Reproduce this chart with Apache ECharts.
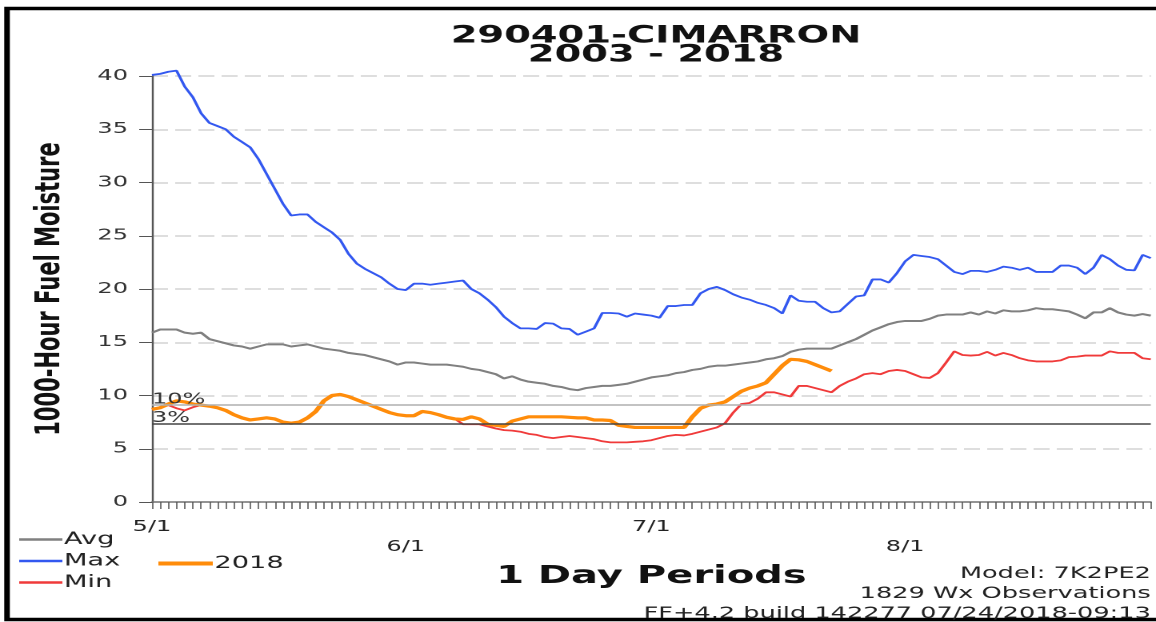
<!DOCTYPE html>
<html>
<head>
<meta charset="utf-8">
<script src="https://cdn.jsdelivr.net/npm/echarts@6/dist/echarts.min.js"></script>
<style>
    html, body { margin: 0; padding: 0; background: #fff; overflow: hidden; }
    /* the source picture is stretched sideways, so draw narrow and stretch the whole chart */
    #chart { width: 722.5px; height: 622px; transform: scaleX(1.6); transform-origin: 0 0; }
</style>
</head>
<body>
<div id="chart"></div>
<script>
// days from 5/1 to 8/31
var monthStarts = [5, 6, 7, 8];
var monthDays = [31, 30, 31, 31];
var dates = [];
for (var m = 0; m < monthStarts.length; m++) {
    for (var d = 1; d <= monthDays[m]; d++) {
        dates.push(monthStarts[m] + '/' + d);
    }
}

var avgData = [
    15.9, 16.2, 16.2, 16.2, 15.9, 15.8, 15.9, 15.3, 15.1, 14.9,
    14.7, 14.6, 14.4, 14.6, 14.8, 14.8, 14.8, 14.6, 14.7, 14.8,
    14.6, 14.4, 14.3, 14.2, 14.0, 13.9, 13.8, 13.6, 13.4, 13.2,
    12.9, 13.1, 13.1, 13.0, 12.9, 12.9, 12.9, 12.8, 12.7, 12.5,
    12.4, 12.2, 12.0, 11.6, 11.8, 11.5, 11.3, 11.2, 11.1, 10.9,
    10.8, 10.6, 10.5, 10.7, 10.8, 10.9, 10.9, 11.0, 11.1, 11.3,
    11.5, 11.7, 11.8, 11.9, 12.1, 12.2, 12.4, 12.5, 12.7, 12.8,
    12.8, 12.9, 13.0, 13.1, 13.2, 13.4, 13.5, 13.7, 14.1, 14.3,
    14.4, 14.4, 14.4, 14.4, 14.7, 15.0, 15.3, 15.7, 16.1, 16.4,
    16.7, 16.9, 17.0, 17.0, 17.0, 17.2, 17.5, 17.6, 17.6, 17.6,
    17.8, 17.6, 17.9, 17.7, 18.0, 17.9, 17.9, 18.0, 18.2, 18.1,
    18.1, 18.0, 17.9, 17.6, 17.25, 17.8, 17.8, 18.2, 17.8, 17.6,
    17.5, 17.65, 17.5
];

var maxData = [
    40.1, 40.2, 40.4, 40.5, 39.0, 38.0, 36.5, 35.6, 35.3, 35.0,
    34.3, 33.8, 33.3, 32.2, 30.8, 29.4, 28.0, 26.9, 27.0, 27.0,
    26.3, 25.8, 25.3, 24.6, 23.3, 22.4, 21.9, 21.5, 21.1, 20.5,
    20.0, 19.9, 20.5, 20.5, 20.4, 20.5, 20.6, 20.7, 20.8, 20.0,
    19.6, 19.0, 18.3, 17.4, 16.8, 16.3, 16.3, 16.25, 16.8, 16.75,
    16.3, 16.25, 15.7, 16.0, 16.3, 17.75, 17.75, 17.7, 17.4, 17.7,
    17.6, 17.5, 17.3, 18.4, 18.4, 18.5, 18.5, 19.6, 20.0, 20.2,
    19.9, 19.5, 19.2, 19.0, 18.7, 18.5, 18.2, 17.7, 19.4, 18.9,
    18.8, 18.8, 18.2, 17.8, 17.9, 18.6, 19.3, 19.4, 20.9, 20.9,
    20.6, 21.5, 22.6, 23.2, 23.1, 23.0, 22.8, 22.2, 21.6, 21.4,
    21.7, 21.7, 21.6, 21.8, 22.1, 22.0, 21.8, 22.0, 21.6, 21.6,
    21.6, 22.2, 22.2, 22.0, 21.4, 22.0, 23.2, 22.8, 22.2, 21.8,
    21.75, 23.2, 22.9
];

var minData = [
    8.7, 8.85, 9.1, 8.8, 8.6, 8.9, 9.1, 9.0, 8.85, 8.6,
    8.2, 7.9, 7.7, 7.8, 7.9, 7.8, 7.5, 7.4, 7.5, 7.9,
    8.5, 9.5, 10.0, 10.1, 9.9, 9.6, 9.3, 9.0, 8.7, 8.4,
    8.2, 8.1, 8.1, 8.5, 8.4, 8.2, 7.95, 7.8, 7.3, 7.3,
    7.3, 7.1, 6.9, 6.75, 6.7, 6.6, 6.4, 6.3, 6.1, 6.0,
    6.1, 6.2, 6.1, 6.0, 5.9, 5.7, 5.6, 5.6, 5.6, 5.65,
    5.7, 5.8, 6.0, 6.2, 6.3, 6.25, 6.4, 6.6, 6.8, 7.0,
    7.4, 8.4, 9.2, 9.3, 9.7, 10.3, 10.3, 10.1, 9.9, 10.9,
    10.9, 10.7, 10.5, 10.3, 10.9, 11.3, 11.6, 12.0, 12.1, 12.0,
    12.3, 12.4, 12.3, 12.0, 11.7, 11.65, 12.1, 13.1, 14.15, 13.8,
    13.75, 13.8, 14.1, 13.75, 14.0, 13.8, 13.5, 13.3, 13.2, 13.2,
    13.2, 13.3, 13.6, 13.65, 13.75, 13.75, 13.75, 14.15, 14.0, 14.0,
    14.0, 13.5, 13.4
];

var data2018 = [
    8.7, 8.85, 9.2, 9.5, 9.4, 9.2, 9.1, 9.0, 8.85, 8.6,
    8.2, 7.9, 7.7, 7.8, 7.9, 7.8, 7.5, 7.4, 7.5, 7.9,
    8.5, 9.5, 10.0, 10.1, 9.9, 9.6, 9.3, 9.0, 8.7, 8.4,
    8.2, 8.1, 8.1, 8.5, 8.4, 8.2, 7.95, 7.8, 7.75, 8.0,
    7.8, 7.3, 7.2, 7.1, 7.6, 7.8, 8.0, 8.0, 8.0, 8.0,
    8.0, 7.95, 7.9, 7.9, 7.7, 7.7, 7.65, 7.2, 7.1, 7.0,
    7.0, 7.0, 7.0, 7.0, 7.0, 7.0, 8.0, 8.8, 9.1, 9.2,
    9.4, 9.9, 10.4, 10.7, 10.9, 11.2, 12.0, 12.8, 13.4, 13.35,
    13.2, 12.9, 12.6, 12.3
];

// percentile lines
var pctNames = ['10%', '3%'];
var pctValues = [9.1, 7.35];

var titleLines = ['290401-CIMARRON', '2003 - 2018'];
var footLines = ['Model: 7K2PE2', '1829 Wx Observations', 'FF+4.2 build 142277 07/24/2018-09:13'];

var font = '"DejaVu Sans", Verdana, sans-serif';
var chart = echarts.init(document.getElementById('chart'), null, { devicePixelRatio: 2 });

var option = {
    animation: false,
    backgroundColor: '#fff',
    textStyle: { fontFamily: font },
    title: {
        text: titleLines.join('\n'),
        left: 405,
        textAlign: 'center',
        top: 22,
        textStyle: { fontSize: 24, fontWeight: 'bold', color: '#111', lineHeight: 19, fontFamily: font }
    },
    legend: [{
        data: ['Avg', 'Max', 'Min'],
        orient: 'vertical',
        left: 7,
        top: 526,
        icon: 'rect',
        itemWidth: 27,
        itemHeight: 2.5,
        itemGap: 4.5,
        textStyle: { fontSize: 17, color: '#222', padding: [0, 0, 0, -4] }
    }, {
        data: ['2018'],
        left: 94,
        top: 550,
        icon: 'rect',
        itemWidth: 34,
        itemHeight: 4,
        textStyle: { fontSize: 17, color: '#222', padding: [0, 0, 0, -4] }
    }],
    grid: { left: 95, right: 3.75, top: 76, bottom: 120 },
    xAxis: {
        type: 'category',
        data: dates,
        boundaryGap: false,
        axisLine: { lineStyle: { color: '#777', width: 1.5 } },
        axisTick: { interval: 0, length: 7, lineStyle: { color: '#555', width: 0.8 } },
        axisLabel: {
            interval: function (i, v) { return /\/1$/.test(v); },
            fontSize: 15,
            color: '#222',
            margin: 15,
            lineHeight: 20,
            formatter: function (v) {
                var mon = parseInt(v, 10);
                return (mon === 6 || mon === 8) ? '\n' + v : v;
            }
        },
        splitLine: { show: false },
        name: '1 Day Periods',
        nameLocation: 'middle',
        nameGap: 62,
        nameTextStyle: { fontSize: 25, fontWeight: 'bold', color: '#111' }
    },
    yAxis: {
        type: 'value',
        min: 0,
        max: 40,
        interval: 5,
        name: '1000-Hour Fuel Moisture',
        nameLocation: 'middle',
        nameRotate: 90,
        nameGap: 53,
        nameTextStyle: { fontSize: 21, fontWeight: 'bold', color: '#111' },
        axisLine: { show: true, lineStyle: { color: '#555', width: 1.2 } },
        axisTick: { show: true, length: 8, lineStyle: { color: '#555' } },
        axisLabel: { fontSize: 15, color: '#333', margin: 15 },
        splitLine: { lineStyle: { color: '#d4d4d4', type: [10, 4.5], width: 1.5 } }
    },
    series: [{
        name: 'Avg',
        type: 'line',
        data: avgData,
        showSymbol: false,
        lineStyle: { color: '#808080', width: 2 },
        itemStyle: { color: '#808080' },
        markLine: {
            silent: true,
            symbol: 'none',
            data: [
                { yAxis: pctValues[0], name: pctNames[0], lineStyle: { color: '#b0b0b0', width: 1.5, type: 'solid' } },
                { yAxis: pctValues[1], name: pctNames[1], lineStyle: { color: '#444', width: 1.5, type: 'solid' } }
            ],
            label: {
                position: 'insideStartTop',
                formatter: '{b}',
                fontSize: 15,
                color: '#333',
                distance: [0, -2]
            }
        }
    }, {
        name: 'Max',
        type: 'line',
        data: maxData,
        showSymbol: false,
        clip: false,
        lineStyle: { color: '#3358f0', width: 1.8 },
        itemStyle: { color: '#3358f0' }
    }, {
        name: 'Min',
        type: 'line',
        data: minData,
        showSymbol: false,
        lineStyle: { color: '#f03a3a', width: 1.8 },
        itemStyle: { color: '#f03a3a' }
    }, {
        name: '2018',
        type: 'line',
        data: data2018,
        showSymbol: false,
        lineStyle: { color: '#ff8c0a', width: 3.2 },
        itemStyle: { color: '#ff8c0a' }
    }],
    graphic: [{
        type: 'rect',
        shape: { x: 4.4, y: 8.5, width: 730, height: 611 },
        style: { fill: 'none', stroke: '#000', lineWidth: 3.5 },
        silent: true
    }, {
        type: 'text',
        right: 3.75,
        top: 564,
        style: {
            text: footLines.join('\n'),
            font: '16px ' + font,
            fill: '#222',
            textAlign: 'right',
            lineHeight: 20
        }
    }]
};

chart.setOption(option);
</script>
</body>
</html>
